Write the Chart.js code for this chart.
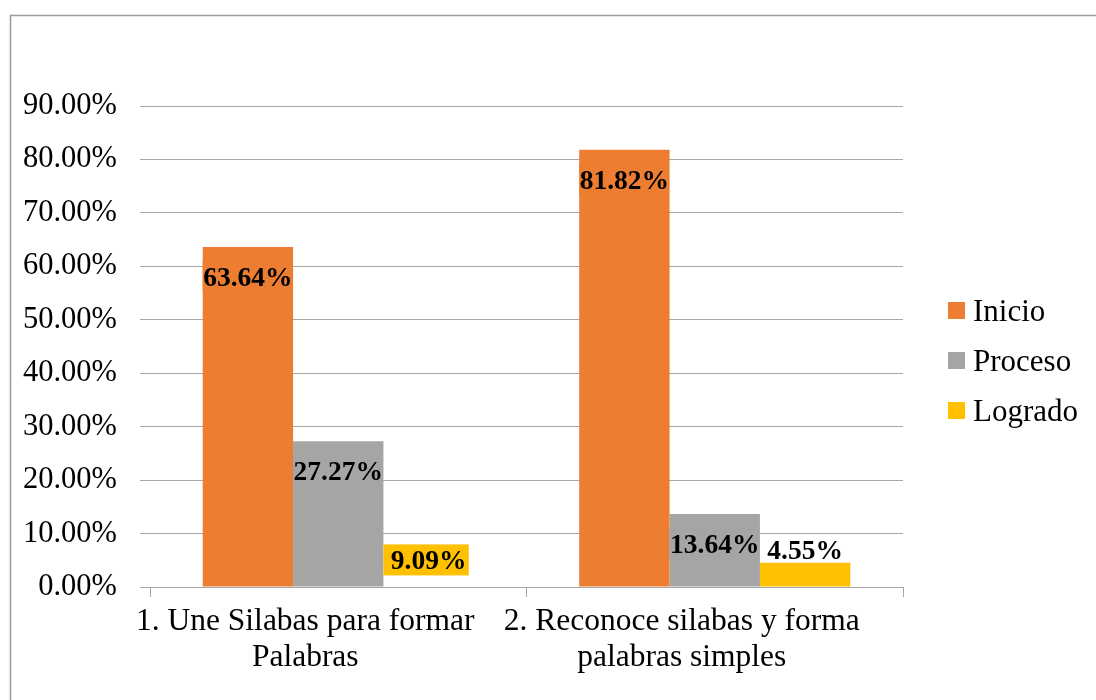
<!DOCTYPE html>
<html>
<head>
<meta charset="utf-8">
<script src="https://cdn.jsdelivr.net/npm/chart.js@4"></script>
<style>
  html, body { margin: 0; padding: 0; background: #fff; }
  #wrap { width: 1096px; height: 700px; position: relative; }
</style>
</head>
<body>
<div id="wrap"><canvas id="c" width="1096" height="700"></canvas></div>
<script>
const categories = [
  ['1. Une Silabas para formar', 'Palabras'],
  ['2. Reconoce silabas y forma', 'palabras simples']
];
const seriesNames = ['Inicio', 'Proceso', 'Logrado'];
const inicio = [63.64, 81.82];
const proceso = [27.27, 13.64];
const logrado = [9.09, 4.55];
const yTicks = [0, 10, 20, 30, 40, 50, 60, 70, 80, 90];

const COLORS = ['#ED7D31', '#A5A5A5', '#FFC000'];
const SERIF = '"Liberation Serif", "Times New Roman", serif';
const GRID = '#A6A6A6';

const frame = {
  id: 'frame',
  beforeDraw(chart) {
    const ctx = chart.ctx;
    ctx.save();
    ctx.fillStyle = '#fff';
    ctx.fillRect(0, 0, chart.width, chart.height);
    ctx.strokeStyle = '#9A9A9A';
    ctx.lineWidth = 1.5;
    ctx.strokeRect(10.5, 15.5, 1200, 1000);
    ctx.restore();
  }
};

const dataLabels = {
  id: 'dataLabels',
  afterDatasetsDraw(chart) {
    const ctx = chart.ctx;
    ctx.save();
    ctx.font = 'bold 27.5px ' + SERIF;
    ctx.textAlign = 'center';
    ctx.textBaseline = 'alphabetic';
    chart.data.datasets.forEach((ds, i) => {
      const meta = chart.getDatasetMeta(i);
      meta.data.forEach((bar, j) => {
        const v = ds.data[j];
        const txt = v.toFixed(2) + '%';
        const h = bar.base - bar.y;
        let baseline, inside = true;
        if (h > 55) baseline = bar.y + 39;
        else if (h > 40) baseline = bar.y + 31;
        else { baseline = bar.y - 4; inside = false; }
        if (inside) {
          const l = bar.x - bar.width / 2;
          ctx.fillStyle = COLORS[i];
          ctx.fillRect(l, baseline - 25, bar.width - 5, 31);
        }
        ctx.fillStyle = '#000';
        ctx.fillText(txt, bar.x, baseline);
      });
    });
    ctx.restore();
  }
};

const legendPlugin = {
  id: 'customLegend',
  afterDraw(chart) {
    const ctx = chart.ctx;
    ctx.save();
    ctx.font = '31px ' + SERIF;
    ctx.textAlign = 'left';
    ctx.textBaseline = 'alphabetic';
    chart.data.datasets.forEach((ds, i) => {
      const cy = 310 + i * 50;
      ctx.fillStyle = COLORS[i];
      ctx.fillRect(948, cy - 8, 17, 17);
      ctx.fillStyle = '#000';
      ctx.fillText(ds.label, 973, cy + 11);
    });
    ctx.restore();
  }
};

new Chart(document.getElementById('c'), {
  type: 'bar',
  data: {
    labels: categories,
    datasets: [
      { label: seriesNames[0], data: inicio, backgroundColor: COLORS[0] },
      { label: seriesNames[1], data: proceso, backgroundColor: COLORS[1] },
      { label: seriesNames[2], data: logrado, backgroundColor: ['rgba(0,0,0,0)', COLORS[2]] }
    ]
  },
  options: {
    responsive: false,
    animation: false,
    devicePixelRatio: 1,
    categoryPercentage: 0.72,
    barPercentage: 1.0,
    layout: { padding: { left: 23, right: 193, top: 106, bottom: 0 } },
    plugins: {
      legend: { display: false },
      tooltip: { enabled: false },
      title: { display: false }
    },
    scales: {
      x: {
        offset: true,
        grid: {
          offset: true,
          drawOnChartArea: false,
          drawTicks: true,
          tickLength: 10,
          color: GRID,
          lineWidth: 1
        },
        border: { display: true, color: GRID, width: 1 },
        ticks: {
          color: '#000',
          font: { family: SERIF, size: 31.5, lineHeight: 1.13 },
          padding: 7,
          labelOffset: -33,
          maxRotation: 0,
          minRotation: 0,
          autoSkip: false
        },
        afterFit(scale) { scale.height = 113; }
      },
      y: {
        min: 0,
        max: 90,
        afterBuildTicks(scale) { scale.ticks = yTicks.map(v => ({ value: v })); },
        grid: {
          drawTicks: true,
          tickLength: 10,
          color: GRID,
          lineWidth: 1
        },
        border: { display: false },
        ticks: {
          color: '#000',
          font: { family: SERIF, size: 30.5 },
          padding: 23,
          callback: v => Number(v).toFixed(2) + '%'
        },
        afterFit(scale) { scale.width = 127; }
      }
    }
  },
  plugins: [frame, dataLabels, legendPlugin]
});
</script>
</body>
</html>
